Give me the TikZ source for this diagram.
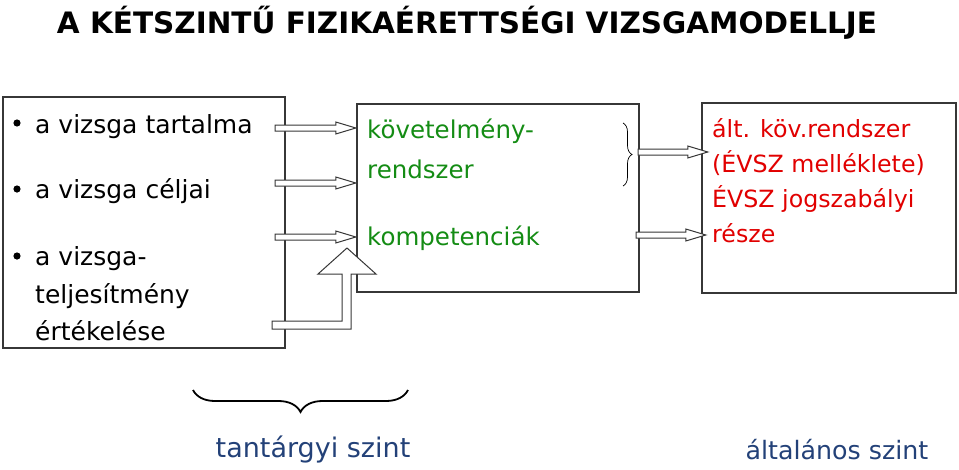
\documentclass[tikz,border=0pt]{standalone}
\usepackage{fontspec}
\setmainfont{DejaVu Sans}
\usetikzlibrary{calc,decorations.pathreplacing}
\definecolor{tgreen}{RGB}{20,140,20}
\definecolor{tred}{RGB}{225,0,0}
\definecolor{tblue}{RGB}{35,65,120}
\definecolor{frame}{RGB}{55,55,55}
\newcommand\blockarrow[2]{%
  \draw[blk] let \p1=#1, \p2=#2, \n1={\x2-20pt} in
    (\x1,\y1+3pt) -- (\n1,\y1+3pt) -- (\n1,\y1+6pt) -- (\x2,\y1)
    -- (\n1,\y1-6pt) -- (\n1,\y1-3pt) -- (\x1,\y1-3pt) -- cycle;}
\begin{document}
\begin{tikzpicture}[x=1pt,y=-1pt,
  box/.style={draw=frame,line width=1.2pt},
  blk/.style={draw=frame,line width=1pt,fill=white},
  txt/.style={anchor=base west,inner sep=0pt,font=\fontsize{25}{30}\selectfont},
  gtxt/.style={txt,text=tgreen,font=\fontsize{24.5}{30}\selectfont},
  rtxt/.style={txt,text=tred,font=\fontsize{23.7}{30}\selectfont},
  lvl/.style={anchor=base,inner sep=0pt,text=tblue}]
\useasboundingbox (0,0) rectangle (959,469);
% title
\node[anchor=base,inner sep=0pt,font=\fontsize{29.5}{34}\selectfont\bfseries] (title) at (467,33) {A KÉTSZINTŰ FIZIKAÉRETTSÉGI VIZSGAMODELLJE};
% boxes
\draw[box] (3,97) rectangle (285,348);
\node[inner sep=0pt,minimum width=282pt,minimum height=251pt] (lbox) at (144,222.5) {};
\draw[box] (357,104) rectangle (639,292);
\node[inner sep=0pt,minimum width=282pt,minimum height=188pt] (mbox) at (498,198) {};
\draw[box] (702,103) rectangle (956,293);
\node[inner sep=0pt,minimum width=254pt,minimum height=190pt] (rbox) at (829,198) {};
% left text
\fill[black] (17,123) circle (3.6);
\fill[black] (17,189) circle (3.6);
\fill[black] (17,256) circle (3.6);
\node[txt] (l1) at (35,133) {a vizsga tartalma};
\node[txt] (l2) at (35,198) {a vizsga céljai};
\node[txt] (l3) at (35,265) {a vizsga-};
\node[txt] (l4) at (35,303) {teljesítmény};
\node[txt] (l5) at (35,340) {értékelése};
% middle text
\node[gtxt] (m1) at (367,138) {követelmény-};
\node[gtxt] (m2) at (367,178) {rendszer};
\node[gtxt] (m3) at (367,245) {kompetenciák};
% right text
\node[rtxt] (r1) at (712,137) {ált. köv.rendszer};
\node[rtxt] (r2) at (712,172) {(ÉVSZ melléklete)};
\node[rtxt] (r3) at (712,207) {ÉVSZ jogszabályi};
\node[rtxt] (r4) at (712,242) {része};
% level labels
\node[lvl,font=\fontsize{27}{30}\selectfont] (ts) at (313,457) {tantárgyi szint};
\node[lvl,font=\fontsize{25.3}{30}\selectfont] (as) at (837,459) {általános szint};
% braces
\draw[line width=0.7pt,decorate,decoration={brace,amplitude=9pt}] (623,123) -- (623,186);
\coordinate (bl) at (193,390);
\coordinate (br) at (408,390);
\draw[line width=1.8pt,decorate,decoration={brace,mirror,amplitude=22pt}] (bl) -- (br);
% row coordinates
\coordinate (y1) at (0,128);
\coordinate (y2) at (0,183);
\coordinate (y3) at (0,237);
\coordinate (y4) at (0,152);
\coordinate (y5) at (0,235);
% arrows left -> middle
\blockarrow{([xshift=-10pt]lbox.east |- y1)}{([xshift=-1pt]mbox.west |- y1)}
\blockarrow{([xshift=-10pt]lbox.east |- y2)}{([xshift=-1pt]mbox.west |- y2)}
\blockarrow{([xshift=-10pt]lbox.east |- y3)}{([xshift=-1pt]mbox.west |- y3)}
% arrows middle -> right
\blockarrow{([xshift=-1pt]mbox.east |- y4)}{([xshift=6pt]rbox.west |- y4)}
\blockarrow{([xshift=-3pt]mbox.east |- y5)}{([xshift=4pt]rbox.west |- y5)}
% up arrow
\draw[blk] (272,321) -- (342,321) -- (342,274) -- (318,274) -- (347,248) -- (376,274)
  -- (351,274) -- (351,329) -- (272,329) -- cycle;
\end{tikzpicture}
\end{document}
